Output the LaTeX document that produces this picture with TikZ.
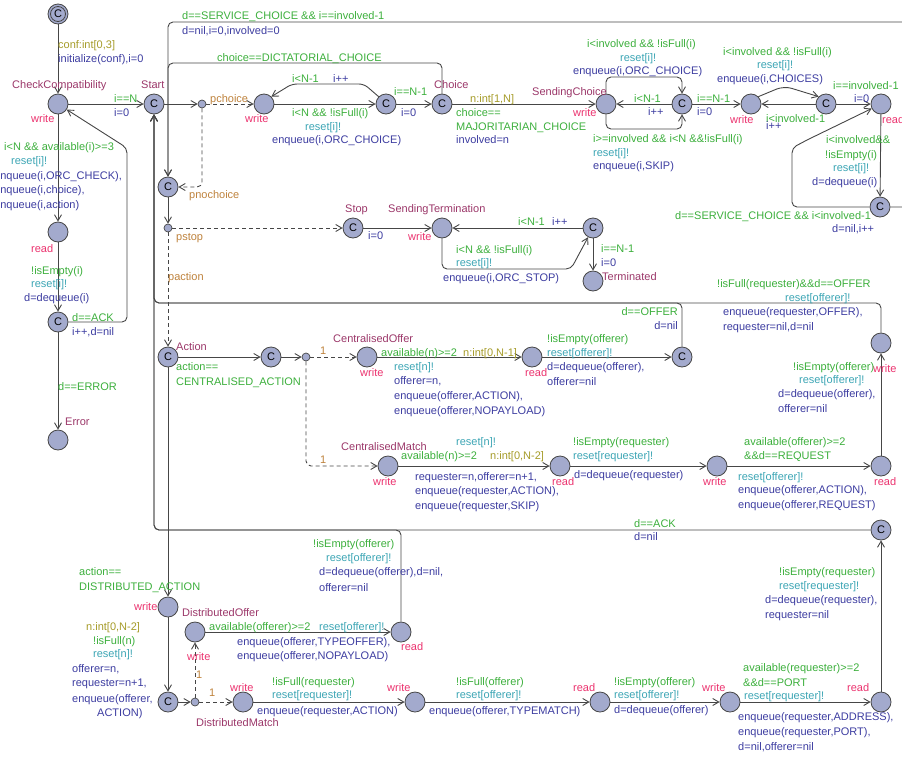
\documentclass[tikz,border=0pt]{standalone}
\usepackage{fontspec}
\setmainfont{Liberation Sans}
\usetikzlibrary{arrows.meta}
\definecolor{cPlum}{RGB}{155,55,105}
\definecolor{cPink}{RGB}{235,50,110}
\definecolor{cGrn}{RGB}{60,175,60}
\definecolor{cTeal}{RGB}{60,165,180}
\definecolor{cBlu}{RGB}{60,60,160}
\definecolor{cOlv}{RGB}{165,155,40}
\definecolor{cBrn}{RGB}{190,130,60}
\definecolor{nodef}{RGB}{163,170,205}
\definecolor{edgec}{RGB}{70,70,70}
\newcounter{lbc}
\newcommand\lb[4]{\stepcounter{lbc}\node[lab,text=#1] (lb\arabic{lbc}) at (#2,#3) {#4};}
\newcommand\lbe[4]{\stepcounter{lbc}\node[lab,anchor=east,text=#1] (lb\arabic{lbc}) at (#2,#3) {#4};}
\tikzset{
 loc/.style={circle,draw=edgec,fill=nodef,minimum size=20pt,inner sep=0pt,line width=0.8pt,font=\fontsize{11}{11}\selectfont},
 brn/.style={circle,draw=edgec,fill=nodef,minimum size=8pt,inner sep=0pt,line width=0.7pt},
 edge/.style={draw=edgec,line width=0.9pt,-{Straight Barb[length=6pt,width=7pt]},rounded corners=5pt},
 dedge/.style={edge,dash pattern=on 4pt off 3pt},
 lab/.style={anchor=west,inner sep=0pt,text height=8pt,text depth=2pt,font=\fontsize{11}{13}\selectfont},
}
\begin{document}
\begin{tikzpicture}[x=1pt,y=-1pt]
\useasboundingbox (0,0) rectangle (902,758);
% ---------- locations ----------
\node[loc] (init) at (58,14) {C};
\draw[edgec,line width=0.8pt] (init) circle[radius=7.5pt];
\node[loc] (cc) at (58,104) {};
\node[loc] (start) at (154,104) {C};
\node[brn] (pch) at (202,104) {};
\node[loc] (w1) at (264,104) {};
\node[loc] (c1) at (386,104) {C};
\node[loc] (choice) at (442,104) {C};
\node[loc] (sc) at (606,104) {};
\node[loc] (c2) at (682,104) {C};
\node[loc] (w2) at (751,104) {};
\node[loc] (c3) at (826,104) {C};
\node[loc] (rd1) at (881,104) {};
\node[loc] (c4) at (880,207) {C};
\node[loc] (pnc) at (168,187) {C};
\node[brn] (pstop) at (168,228) {};
\node[loc] (stop) at (353,228) {C};
\node[loc] (st) at (442,228) {};
\node[loc] (c5) at (593,228) {C};
\node[loc] (term) at (593,281) {};
\node[loc] (rd0) at (58,232) {};
\node[loc] (c0) at (58,322) {C};
\node[loc] (err) at (58,440) {};
\node[loc] (action) at (168,357) {C};
\node[loc] (c6) at (271,357) {C};
\node[brn] (pa) at (306,357) {};
\node[loc] (co) at (367,357) {};
\node[loc] (rd2) at (532,357) {};
\node[loc] (c7) at (682,357) {C};
\node[loc] (cm) at (388,466) {};
\node[loc] (rd3) at (560,466) {};
\node[loc] (w3) at (717,466) {};
\node[loc] (rd4) at (881,466) {};
\node[loc] (w4) at (881,343) {};
\node[loc] (c8) at (881,530) {C};
\node[loc] (w5) at (168,607) {};
\node[loc] (dof) at (195,632) {};
\node[loc] (rd5) at (401,632) {};
\node[loc] (c9) at (168,702) {C};
\node[brn] (pdm) at (195,702) {};
\node[loc] (w6) at (243,702) {};
\node[loc] (w7) at (415,702) {};
\node[loc] (rd6) at (600,702) {};
\node[loc] (w8) at (730,702) {};
\node[loc] (rd7) at (881,702) {};
% ---------- edges ----------
\draw[edge] (init) -- (cc);
\draw[edge] (cc) -- (start);
\draw[edge] (cc) -- (rd0);
\draw[edge] (rd0) -- (c0);
\draw[edge] (c0) -- (127,322) -- (127,148) -- (cc);
\draw[edge] (c0) -- (err);
\draw[edge] (start) -- (pch);
\draw[dedge] (pch) -- (w1);
\draw[dedge] (pch) |- (pnc);
\draw[edge] (c1.north west) -- (364,84) -- (292,84) -- (w1.north east);
\draw[edge] (w1) -- (c1);
\draw[edge] (c1) -- (choice);
\draw[edge] (choice) -- (442,63) -- (168,63) -- (pnc);
\draw[edge] (c4) -- (925,207) -- (925,22) -- (168,22) -- (pnc);
\draw[edge] (choice) -- (sc);
\draw[edge] (sc.north) -- (606,77) -- (682,77) -- (c2.north);
\draw[edge] (sc.south) -- (606,129) -- (682,129) -- (c2.south);
\draw[edge] (c2) -- (sc);
\draw[edge] (c2) -- (w2);
\draw[edge,rounded corners=8pt] (w2.north east) -- (784,86) -- (c3.north west);
\draw[edge] (c3) -- (w2);
\draw[edge] (c3) -- (rd1);
\draw[edge] (rd1) -- (c4);
\draw[edge] (c4) -- (792,207) -- (792,148) -- (807,140) -- (rd1);
\draw[edge] (pnc) -- (pstop);
\draw[dedge] (pstop) -- (stop);
\draw[dedge] (pstop) -- (action);
\draw[edge] (stop) -- (st);
\draw[edge] (c5) -- (st);
\draw[edge] (st.south) -- (442,269) -- (571,269) -- (c5);
\draw[edge] (c5) -- (term);
\draw[edge] (w4) -- (881,303) -- (154,303) -- (start);
\draw[edge] (c7) -- (682,303) -- (154,303) -- (start);
\draw[edge] (c8) -- (154,530) -- (start);
\draw[edge] (rd5) -- (401,530) -- (154,530) -- (start);
\draw[edge] (action) -- (c6);
\draw[edge] (c6) -- (pa);
\draw[dedge] (pa) -- (co);
\draw[dedge] (pa) |- (cm);
\draw[edge] (co) -- (rd2);
\draw[edge] (rd2) -- (c7);
\draw[edge] (cm) -- (rd3);
\draw[edge] (rd3) -- (w3);
\draw[edge] (w3) -- (rd4);
\draw[edge] (rd4) -- (w4);
\draw[edge] (rd7) -- (c8);
\draw[edge] (action) -- (w5);
\draw[edge] (w5) -- (c9);
\draw[edge] (c9) -- (pdm);
\draw[dedge] (pdm) -- (dof);
\draw[dedge] (pdm) -- (w6);
\draw[edge] (dof) -- (rd5);
\draw[edge] (w6) -- (w7);
\draw[edge] (w7) -- (rd6);
\draw[edge] (rd6) -- (w8);
\draw[edge] (w8) -- (rd7);
% ---------- location names ----------
\lb{cPlum}{12}{85}{CheckCompatibility}
\lb{cPlum}{141}{85}{Start}
\lb{cPlum}{434}{85}{Choice}
\lb{cPlum}{532}{92}{SendingChoice}
\lb{cPlum}{345}{209}{Stop}
\lb{cPlum}{388}{209}{SendingTermination}
\lb{cPlum}{602}{277}{Terminated}
\lb{cPlum}{65}{422}{Error}
\lb{cPlum}{176}{347}{Action}
\lb{cPlum}{333}{339}{CentralisedOffer}
\lb{cPlum}{341}{447}{CentralisedMatch}
\lb{cPlum}{182}{613}{DistributedOffer}
\lb{cPlum}{196}{723}{DistributedMatch}
% ---------- write/read ----------
\lb{cPink}{31}{119}{write}
\lb{cPink}{245}{119}{write}
\lb{cPink}{31}{249}{read}
\lb{cPink}{573}{113}{write}
\lb{cPink}{730}{120}{write}
\lb{cPink}{882}{120}{read}
\lb{cPink}{408}{237}{write}
\lb{cPink}{360}{373}{write}
\lb{cPink}{525}{373}{read}
\lb{cPink}{373}{482}{write}
\lb{cPink}{552}{482}{read}
\lb{cPink}{703}{482}{write}
\lb{cPink}{874}{482}{read}
\lb{cPink}{873}{369}{write}
\lb{cPink}{134}{607}{write}
\lb{cPink}{187}{657}{write}
\lb{cPink}{401}{647}{read}
\lb{cPink}{230}{688}{write}
\lb{cPink}{387}{688}{write}
\lb{cPink}{573}{688}{read}
\lb{cPink}{702}{688}{write}
\lb{cPink}{847}{688}{read}
% ---------- branch labels ----------
\lb{cBrn}{210}{99}{pchoice}
\lb{cBrn}{189}{195}{pnochoice}
\lb{cBrn}{176}{237}{pstop}
\lb{cBrn}{168}{277}{paction}
\lb{cBrn}{320}{351}{1}
\lb{cBrn}{320}{460}{1}
\lb{cBrn}{196}{675}{1}
\lb{cBrn}{209}{693}{1}
% ---------- edge labels ----------
\lb{cOlv}{58}{45}{conf:int[0,3]}
\lb{cBlu}{58}{59}{initialize(conf),i=0}
\lb{cGrn}{114}{99}{i==N}
\lb{cBlu}{114}{113}{i=0}
\lb{cGrn}{4}{147}{i<N \&\& available(i)>=3}
\lb{cTeal}{11}{161}{reset[i]!}
\lb{cBlu}{-6}{176}{enqueue(i,ORC\_CHECK),}
\lb{cBlu}{-6}{190}{enqueue(i,choice),}
\lb{cBlu}{-6}{205}{enqueue(i,action)}
\lb{cGrn}{31}{271}{!isEmpty(i)}
\lb{cTeal}{31}{284}{reset[i]!}
\lb{cBlu}{24}{298}{d=dequeue(i)}
\lb{cGrn}{72}{318}{d==ACK}
\lb{cBlu}{72}{332}{i++,d=nil}
\lb{cGrn}{58}{387}{d==ERROR}
\lb{cGrn}{292}{79}{i<N-1}
\lb{cBlu}{333}{79}{i++}
\lb{cGrn}{292}{113}{i<N \&\& !isFull(i)}
\lb{cTeal}{305}{127}{reset[i]!}
\lb{cBlu}{272}{140}{enqueue(i,ORC\_CHOICE)}
\lb{cGrn}{394}{92}{i==N-1}
\lb{cBlu}{401}{113}{i=0}
\lb{cOlv}{470}{99}{n:int[1,N]}
\lb{cGrn}{456}{113}{choice==}
\lb{cGrn}{456}{127}{MAJORITARIAN\_CHOICE}
\lb{cBlu}{456}{140}{involved=n}
\lb{cGrn}{182}{16}{d==SERVICE\_CHOICE \&\& i==involved-1}
\lb{cBlu}{182}{31}{d=nil,i=0,involved=0}
\lb{cGrn}{217}{58}{choice==DICTATORIAL\_CHOICE}
\lb{cGrn}{587}{44}{i<involved \&\& !isFull(i)}
\lb{cTeal}{620}{58}{reset[i]!}
\lb{cBlu}{573}{71}{enqueue(i,ORC\_CHOICE)}
\lb{cGrn}{593}{139}{i>=involved \&\& i<N \&\&!isFull(i)}
\lb{cTeal}{593}{153}{reset[i]!}
\lb{cBlu}{593}{166}{enqueue(i,SKIP)}
\lb{cGrn}{634}{99}{i<N-1}
\lb{cBlu}{648}{112}{i++}
\lb{cGrn}{697}{99}{i==N-1}
\lb{cBlu}{697}{112}{i=0}
\lb{cGrn}{723}{52}{i<involved \&\& !isFull(i)}
\lb{cTeal}{757}{65}{reset[i]!}
\lb{cBlu}{717}{79}{enqueue(i,CHOICES)}
\lb{cGrn}{766}{119}{i<involved-1}
\lb{cBlu}{766}{126}{i++}
\lb{cGrn}{833}{86}{i==involved-1}
\lb{cBlu}{854}{99}{i=0}
\lb{cGrn}{826}{140}{i<involved\&\&}
\lb{cGrn}{825}{155}{!isEmpty(i)}
\lb{cTeal}{833}{168}{reset[i]!}
\lb{cBlu}{812}{182}{d=dequeue(i)}
\lb{cGrn}{675}{216}{d==SERVICE\_CHOICE \&\& i<involved-1}
\lb{cBlu}{832}{229}{d=nil,i++}
\lb{cBlu}{368}{236}{i=0}
\lb{cGrn}{518}{222}{i<N-1}
\lb{cBlu}{552}{222}{i++}
\lb{cGrn}{456}{250}{i<N \&\& !isFull(i)}
\lb{cTeal}{456}{263}{reset[i]!}
\lb{cBlu}{443}{278}{enqueue(i,ORC\_STOP)}
\lb{cGrn}{601}{249}{i==N-1}
\lb{cBlu}{601}{263}{i=0}
\lb{cGrn}{176}{367}{action==}
\lb{cGrn}{176}{382}{CENTRALISED\_ACTION}
\lb{cGrn}{381}{353}{available(n)>=2}
\lb{cOlv}{463}{353}{n:int[0,N-1]}
\lb{cTeal}{394}{367}{reset[n]!}
\lb{cBlu}{394}{381}{offerer=n,}
\lb{cBlu}{394}{396}{enqueue(offerer,ACTION),}
\lb{cBlu}{394}{411}{enqueue(offerer,NOPAYLOAD)}
\lb{cGrn}{547}{339}{!isEmpty(offerer)}
\lb{cTeal}{547}{353}{reset[offerer]!}
\lb{cBlu}{547}{367}{d=dequeue(offerer),}
\lb{cBlu}{547}{382}{offerer=nil}
\lbe{cGrn}{678}{312}{d==OFFER}
\lbe{cBlu}{678}{326}{d=nil}
\lb{cGrn}{717}{284}{!isFull(requester)\&\&d==OFFER}
\lb{cTeal}{785}{298}{reset[offerer]!}
\lb{cBlu}{723}{312}{enqueue(requester,OFFER),}
\lb{cBlu}{723}{327}{requester=nil,d=nil}
\lb{cGrn}{793}{367}{!isEmpty(offerer)}
\lb{cTeal}{799}{380}{reset[offerer]!}
\lb{cBlu}{778}{394}{d=dequeue(offerer),}
\lb{cBlu}{778}{409}{offerer=nil}
\lb{cTeal}{456}{442}{reset[n]!}
\lb{cGrn}{401}{456}{available(n)>=2}
\lb{cOlv}{490}{456}{n:int[0,N-2]}
\lb{cBlu}{415}{477}{requester=n,offerer=n+1,}
\lb{cBlu}{415}{491}{enqueue(requester,ACTION),}
\lb{cBlu}{415}{506}{enqueue(requester,SKIP)}
\lb{cGrn}{573}{442}{!isEmpty(requester)}
\lb{cTeal}{573}{456}{reset[requester]!}
\lb{cBlu}{574}{475}{d=dequeue(requester)}
\lb{cGrn}{744}{442}{available(offerer)>=2}
\lb{cGrn}{744}{456}{\&\&d==REQUEST}
\lb{cTeal}{738}{477}{reset[offerer]!}
\lb{cBlu}{738}{490}{enqueue(offerer,ACTION),}
\lb{cBlu}{738}{505}{enqueue(offerer,REQUEST)}
\lb{cGrn}{634}{524}{d==ACK}
\lb{cBlu}{634}{537}{d=nil}
\lb{cGrn}{779}{572}{!isEmpty(requester)}
\lb{cTeal}{779}{586}{reset[requester]!}
\lb{cBlu}{765}{600}{d=dequeue(requester),}
\lb{cBlu}{765}{615}{requester=nil}
\lb{cGrn}{79}{572}{action==}
\lb{cGrn}{79}{587}{DISTRIBUTED\_ACTION}
\lb{cOlv}{86}{627}{n:int[0,N-2]}
\lb{cGrn}{93}{641}{!isFull(n)}
\lb{cTeal}{93}{654}{reset[n]!}
\lb{cBlu}{72}{669}{offerer=n,}
\lb{cBlu}{72}{683}{requester=n+1,}
\lb{cBlu}{72}{699}{enqueue(offerer,}
\lb{cBlu}{97}{713}{ACTION)}
\lb{cGrn}{209}{627}{available(offerer)>=2}
\lb{cTeal}{319}{627}{reset[offerer]!}
\lb{cBlu}{237}{642}{enqueue(offerer,TYPEOFFER),}
\lb{cBlu}{237}{656}{enqueue(offerer,NOPAYLOAD)}
\lb{cGrn}{313}{544}{!isEmpty(offerer)}
\lb{cTeal}{326}{558}{reset[offerer]!}
\lb{cBlu}{319}{572}{d=dequeue(offerer),d=nil,}
\lb{cBlu}{319}{588}{offerer=nil}
\lb{cGrn}{272}{682}{!isFull(requester)}
\lb{cTeal}{272}{695}{reset[requester]!}
\lb{cBlu}{257}{711}{enqueue(requester,ACTION)}
\lb{cGrn}{456}{682}{!isFull(offerer)}
\lb{cTeal}{456}{695}{reset[offerer]!}
\lb{cBlu}{429}{711}{enqueue(offerer,TYPEMATCH)}
\lb{cGrn}{614}{682}{!isEmpty(offerer)}
\lb{cTeal}{614}{695}{reset[offerer]!}
\lb{cBlu}{614}{710}{d=dequeue(offerer)}
\lb{cGrn}{743}{668}{available(requester)>=2}
\lb{cGrn}{743}{683}{\&\&d==PORT}
\lb{cTeal}{744}{696}{reset[requester]!}
\lb{cBlu}{738}{717}{enqueue(requester,ADDRESS),}
\lb{cBlu}{738}{732}{enqueue(requester,PORT),}
\lb{cBlu}{738}{747}{d=nil,offerer=nil}
\end{tikzpicture}
\end{document}
